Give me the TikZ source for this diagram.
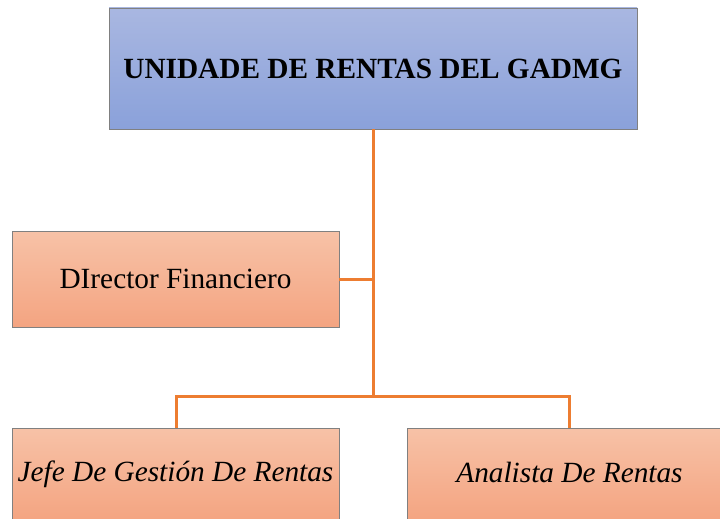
\documentclass[tikz,border=0pt]{standalone}
\usepackage{fontspec}
\setmainfont{Liberation Serif}
\begin{document}
\begin{tikzpicture}[x=1pt,y=-1pt,
  boxbase/.style={draw=black!50, line width=0.8pt, inner sep=0pt, font=\fontsize{29.3}{34}\selectfont},
  bluebox/.style={boxbase, top color=blueTop, bottom color=blueBot},
  orangebox/.style={boxbase, top color=orTop, bottom color=orBot},
  conn/.style={draw=lineOr, line width=3pt}]
\definecolor{blueTop}{HTML}{A9B7E1}
\definecolor{blueBot}{HTML}{8AA1DA}
\definecolor{orTop}{HTML}{F7C2A7}
\definecolor{orBot}{HTML}{F4A481}
\definecolor{lineOr}{HTML}{ED7D31}
\useasboundingbox (0,0) rectangle (720,519);
\clip (0,0) rectangle (720,519);
\node[bluebox, minimum width=528pt, minimum height=121pt, font=\fontsize{29.3}{34}\selectfont\bfseries] (top) at (373,68.5) {UNIDADE DE RENTAS DEL GADMG};
\node[orangebox, minimum width=327pt, minimum height=96pt] (dir) at (175.5,279) {DIrector Financiero};
\node[orangebox, minimum width=327pt, minimum height=92pt, font=\fontsize{29.3}{34}\selectfont\itshape] (jefe) at (175.5,474) {Jefe De Gestión De Rentas};
\node[orangebox, minimum width=325pt, minimum height=92pt, font=\fontsize{29.3}{34}\selectfont\itshape] (anal) at (569.5,474) {\raisebox{4pt}{Analista De Rentas}};
\coordinate (hub) at (373,396);
\coordinate (mid) at (373,279);
\coordinate (hl) at (176,396);
\coordinate (hr) at (569,396);
\draw[conn] (top.south) -- (hub);
\draw[conn] (dir.east) -- (mid);
\draw[conn, line cap=rect] (hl) -- (hr);
\draw[conn] (hl) -- (hl |- jefe.north);
\draw[conn] (hr) -- (hr |- anal.north);
\end{tikzpicture}
\end{document}
